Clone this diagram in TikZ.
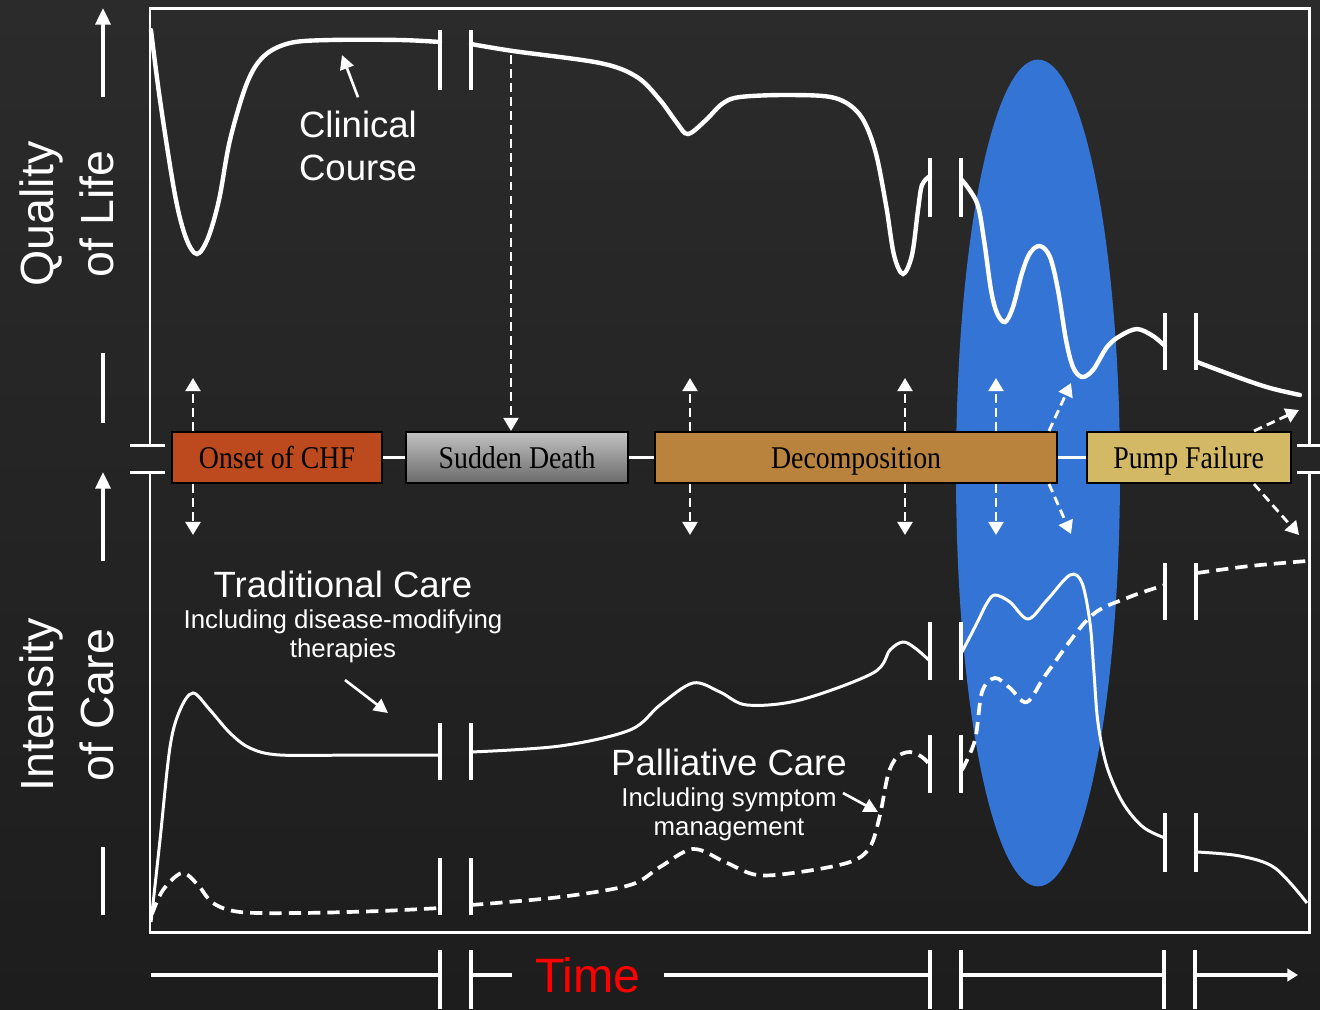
\documentclass[tikz,border=0pt]{standalone}
\usepackage{fontspec}
\setmainfont{Liberation Serif}
\setsansfont{Liberation Sans}
\newfontfamily\stagefont[FakeStretch=0.88]{Liberation Serif}
\usetikzlibrary{arrows.meta,positioning}
\definecolor{boardtop}{HTML}{2B2B2B}
\definecolor{boardbot}{HTML}{1D1D1E}
\definecolor{rust}{HTML}{BD4A1E}
\definecolor{sdtop}{HTML}{C2C2C2}
\definecolor{sdbot}{HTML}{6A6A6A}
\definecolor{decomp}{HTML}{B9833E}
\definecolor{pump}{HTML}{D3B865}
\definecolor{zone}{HTML}{3474D5}
\definecolor{timered}{HTML}{FF0000}

\begin{document}
\begin{tikzpicture}[x=0.02cm,y=-0.02cm,
  stage/.style={draw=black,line width=1.2pt,minimum width=#1,minimum height=1.02cm,inner sep=0pt,text height=14pt,text depth=2pt,font=\stagefont\fontsize{18}{20}\selectfont},
  frame/.style={white,line width=1.7pt},
  brk/.style={white,line width=2.2pt},
  course/.style={white,line width=2.5pt,line cap=round},
  care/.style={white,line width=1.7pt},
  palli/.style={white,line width=2.1pt,dash pattern=on 7pt off 4pt},
  wire/.style={white,line width=1.7pt},
  link/.style={white,line width=1.6pt,dash pattern=on 5pt off 3pt,-{Triangle[width=8.5pt,length=7.5pt]}},
  note/.style={white,line width=1.5pt,-{Triangle[width=8pt,length=8pt]}},
  axis/.style={white,line width=2.2pt},
  lbl/.style={white,font=\sffamily\fontsize{20.8}{24}\selectfont},
  sub/.style={white,align=center,font=\sffamily\fontsize{14.7}{16.5}\selectfont}]

% board
\useasboundingbox (0,0) rectangle (1320,1009);
\shade[top color=boardtop,bottom color=boardbot] (0,0) rectangle (1320,1009);

% transition zone
\fill[zone] (1038,473) ellipse [x radius=1.64cm,y radius=8.27cm];

% axis labels
\node[white,rotate=90,align=center,font=\sffamily\fontsize{26.5}{34}\selectfont] (qol) at (67,214) {Quality\\of Life};
\node[white,rotate=90,align=center,font=\sffamily\fontsize{26.5}{34}\selectfont] (ioc) at (67,705) {Intensity\\of Care};
\draw[axis,-{Triangle[width=8.5pt,length=9.5pt]}] (103,97) -- (103,8);
\draw[axis] (103,353) -- (103,423);
\draw[axis,-{Triangle[width=8.5pt,length=9.5pt]}] (103,561) -- (103,472);
\draw[axis] (103,847) -- (103,915);

% frame with break in the middle
\draw[frame] (150,445) -- (150,8) -- (1309,8) -- (1309,445);
\draw[frame] (150,472) -- (150,932) -- (1309,932) -- (1309,472);
\draw[frame] (130,445) -- (165,445) (130,472) -- (165,472)
  (1297,445) -- (1320,445) (1297,472) -- (1320,472);

% break marks
\foreach \xl/\ya/\yb in {440/30/90,930/158/217,1165/313/370,
  440/723/780,930/622/680,1165/813/872,
  440/858/915,930/735/793,1165/563/620,
  440/950/1009,930/950/1009,1164/950/1009}
  \draw[brk] (\xl,\ya) -- (\xl,\yb) (\xl+31,\ya) -- (\xl+31,\yb);

% quality of life
\draw[course] plot[smooth,tension=0.55] coordinates {(151,30) (160,100) (175,195) (186,238) (197,254) (208,238) (219,200) (230,140) (247,83) (264,56) (290,43) (330,40) (400,40) (440,42)};
\draw[course] plot[smooth,tension=0.55] coordinates {(471,44) (513,51) (600,63) (637,77) (660,100) (677,123) (688,134) (706,120) (722,104) (740,97) (790,95) (835,98) (860,115) (875,150) (886,205) (894,255) (903,274) (912,255) (918,210) (922,185) (930,176)};
\draw[course] plot[smooth,tension=0.55] coordinates {(962,180) (977,203) (984,240) (991,290) (997,313) (1005,322) (1013,307) (1022,273) (1030,253) (1040,246) (1050,257) (1058,290) (1066,340) (1073,367) (1082,377) (1093,370) (1107,347) (1120,336) (1137,329) (1153,336) (1165,346)};
\draw[course] plot[smooth,tension=0.55] coordinates {(1197,362) (1240,378) (1270,388) (1300,395)};

% traditional care
\draw[care] plot[smooth,tension=0.55] coordinates {(151,922) (160,840) (170,747) (180,710) (193,693) (210,710) (230,733) (250,748) (280,755) (360,755) (440,755)};
\draw[care] plot[smooth,tension=0.55] coordinates {(471,752) (560,746) (630,730) (660,705) (693,683) (720,692) (747,705) (800,700) (873,673) (890,650) (903,642) (915,648) (930,661)};
\draw[care] plot[smooth,tension=0.55] coordinates {(962,652) (977,623) (987,603) (995,595) (1010,602) (1028,619) (1047,600) (1070,575) (1082,583) (1090,623) (1094,673) (1098,723) (1107,767) (1123,803) (1143,827) (1165,838)};
\draw[care] plot[smooth,tension=0.55] coordinates {(1197,852) (1240,856) (1275,868) (1307,903)};

% palliative care
\draw[palli] plot[smooth,tension=0.55] coordinates {(152,914) (163,890) (182,873) (198,885) (213,903) (240,912) (300,913) (380,911) (440,908)};
\draw[palli] plot[smooth,tension=0.55] coordinates {(471,905) (560,897) (630,885) (660,867) (693,849) (725,862) (757,875) (800,872) (850,862) (870,847) (880,815) (888,775) (897,757) (910,752) (922,757) (930,765)};
\draw[palli] plot[smooth,tension=0.55] coordinates {(962,770) (975,740) (982,692) (995,678) (1010,688) (1027,702) (1047,673) (1090,617) (1127,598) (1165,585)};
\draw[palli] plot[smooth,tension=0.55] coordinates {(1197,573) (1250,566) (1307,561)};

% stages
\node[stage=4.2cm,fill=rust] (onset) at (277,457.5) {Onset of CHF};
\node[stage=4.44cm,top color=sdtop,bottom color=sdbot,right=0.44cm of onset] (sudden) {Sudden Death};
\node[stage=8.04cm,fill=decomp,right=0.5cm of sudden] (decomp) {Decomposition};
\node[stage=4.08cm,fill=pump,right=0.55cm of decomp] (pump) {Pump Failure};
\draw[wire] (onset) -- (sudden);
\draw[wire] (sudden) -- (decomp);
\draw[wire] (decomp) -- (pump);

% dashed links
\coordinate (sd) at (511,55);
\draw[link] (sd) -- (sd |- sudden.north);
\foreach \x/\st in {193/onset,690/decomp,905/decomp,996/decomp}{
  \coordinate (up) at (\x,378);
  \coordinate (dn) at (\x,535);
  \draw[link] (up |- \st.north) -- (up);
  \draw[link] (dn |- \st.south) -- (dn);
}
\coordinate (dup) at (1071,383);
\coordinate (ddn) at (1071,534);
\coordinate (dft) at (1049,0);
\draw[link] (dft |- decomp.north) -- (dup);
\draw[link] (dft |- decomp.south) -- (ddn);
\coordinate (pup) at (1299,410);
\coordinate (pdn) at (1299,535);
\coordinate (pft) at (1254,0);
\draw[link] (pft |- pump.north) -- (pup);
\draw[link] (pft |- pump.south) -- (pdn);

% labels
\node[lbl,align=left] (clin) at (358,146) {Clinical\\Course};
\coordinate (clintip) at (342,55);
\draw[note] (clin.north) ++(0,-8) -- (clintip);
\node[lbl] (trad) at (343,584) {Traditional Care};
\node[sub,below=0pt of trad] (tradsub) {Including disease-modifying\\therapies};
\coordinate (tradtip) at (388,713);
\draw[note] (345,680) -- (tradtip);
\node[lbl] (pall) at (729,762) {Palliative Care};
\node[sub,below=0pt of pall] (pallsub) {Including symptom\\management};
\coordinate (palltip) at (878,812);
\draw[note] (843,793) -- (palltip);

% time axis
\node[text=timered,inner xsep=13pt,font=\sffamily\fontsize{27.5}{30}\selectfont] (time) at (588,975) {Time};
\draw[axis,line width=1.8pt] (151,975) -- (440,975) (471,975) -- (time.west);
\draw[axis,line width=1.8pt] (time.east) -- (930,975) (961,975) -- (1164,975);
\draw[axis,line width=1.8pt,-{Triangle[width=7pt,length=6pt]}] (1195,975) -- (1298,975);
\end{tikzpicture}
\end{document}
